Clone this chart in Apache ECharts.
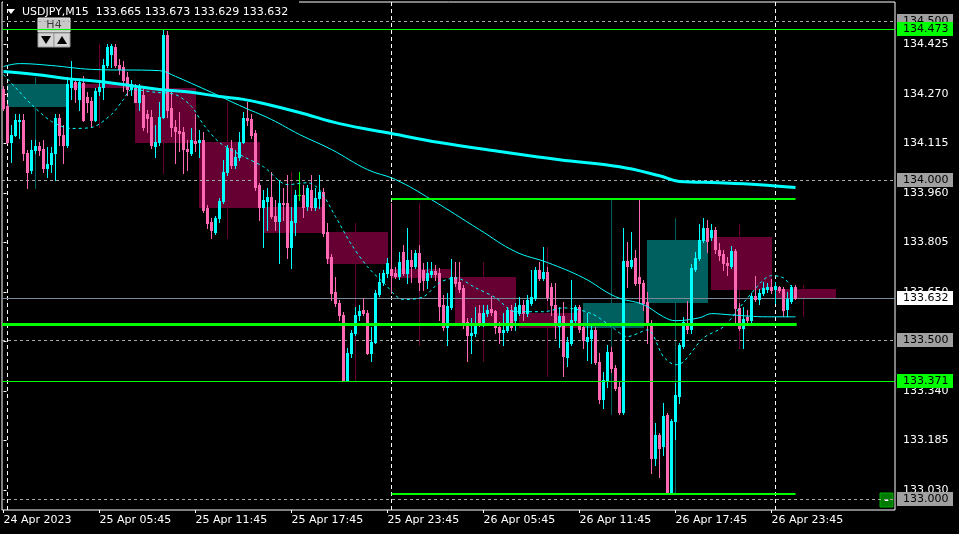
<!DOCTYPE html>
<html><head><meta charset="utf-8">
<script src="https://cdn.jsdelivr.net/npm/echarts@6/dist/echarts.min.js"></script>
<style>html,body{margin:0;padding:0;background:#000;}#c{width:959px;height:534px;}</style>
</head><body><div id="c"></div>
<script>
// ---------------- data ----------------
const symbol = 'USDJPY', period = 'M15';
const opens = [
134.284,134.231,134.121,134.143,134.184,134.190,134.086,134.033,134.093,134.108,
134.099,134.039,134.052,134.086,134.196,134.143,134.111,134.293,134.306,134.253,
134.303,134.259,134.249,134.190,134.278,134.293,134.362,134.394,134.416,134.362,
134.353,134.322,134.284,134.290,134.246,134.268,134.206,134.199,134.108,134.121,
134.199,134.456,134.227,134.168,134.155,134.152,134.099,134.086,134.124,134.118,
134.127,133.914,133.870,133.839,133.883,133.936,134.027,134.102,134.049,134.074,
134.121,134.196,134.193,134.149,133.986,133.917,133.936,133.948,133.889,133.873,
133.930,133.930,133.792,133.870,133.952,133.955,133.920,133.970,133.917,133.945,
133.964,133.839,133.760,133.651,133.616,133.578,133.375,133.459,133.522,133.578,
133.594,133.585,133.459,133.494,133.644,133.682,133.710,133.723,133.710,133.701,
133.776,133.710,133.751,133.732,133.773,133.720,133.688,133.707,133.716,133.710,
133.610,133.541,133.604,133.698,133.682,133.663,133.557,133.516,133.522,133.585,
133.553,133.585,133.597,133.591,133.541,133.525,133.531,133.594,133.563,133.585,
133.610,133.585,133.616,133.632,133.720,133.694,133.713,133.666,133.610,133.544,
133.575,133.447,133.491,133.563,133.604,133.541,133.497,133.506,133.531,133.431,
133.315,133.375,133.462,133.412,133.353,133.274,133.748,133.732,133.757,133.698,
133.679,133.619,133.553,133.130,133.202,133.168,133.265,133.020,133.246,133.325,
133.481,133.553,133.535,133.723,133.757,133.814,133.851,133.823,133.845,133.782,
133.770,133.742,133.732,133.779,133.600,133.538,133.572,133.563,133.638,133.629,
133.647,133.660,133.666,133.660,133.666,133.660,133.597,133.622,133.665];
const highs = [
134.296,134.240,134.174,134.206,134.206,134.206,134.096,134.127,134.127,134.121,
134.127,134.105,134.105,134.206,134.206,134.174,134.322,134.372,134.315,134.315,
134.325,134.275,134.262,134.290,134.315,134.378,134.425,134.425,134.425,134.378,
134.372,134.340,134.315,134.300,134.300,134.284,134.221,134.221,134.174,134.246,
134.473,134.466,134.275,134.190,134.215,134.165,134.127,134.162,134.206,134.158,
134.152,133.923,133.883,133.889,133.945,134.064,134.111,134.127,134.096,134.152,
134.215,134.246,134.206,134.158,133.992,133.970,133.977,134.027,133.939,134.002,
133.977,134.017,133.917,133.970,134.027,133.986,133.986,134.017,133.977,134.017,
133.977,133.867,133.770,133.698,133.626,133.588,133.475,133.531,133.604,133.610,
133.632,133.594,133.541,133.657,133.710,133.720,133.757,133.930,133.729,133.776,
133.798,133.851,133.782,133.782,133.798,133.742,133.745,133.745,133.735,133.726,
133.641,133.647,133.754,133.745,133.745,133.673,133.569,133.569,133.604,133.610,
133.610,133.610,133.638,133.594,133.557,133.585,133.604,133.610,133.616,133.635,
133.626,133.641,133.720,133.729,133.745,133.792,133.729,133.679,133.679,133.604,
133.619,133.510,133.688,133.610,133.610,133.547,133.585,133.547,133.541,133.459,
133.400,133.484,133.478,133.422,133.368,133.851,133.807,133.839,133.782,133.942,
133.688,133.651,133.563,133.240,133.209,133.303,133.271,133.252,133.365,133.491,
133.572,133.622,133.738,133.776,133.864,133.883,133.876,133.864,133.854,133.804,
133.782,133.760,133.795,133.785,133.616,133.604,133.594,133.647,133.701,133.660,
133.682,133.679,133.691,133.682,133.669,133.666,133.651,133.673,133.673];
const lows = [
134.221,134.115,134.058,134.137,134.133,134.064,133.977,134.024,134.086,134.080,
134.027,134.011,134.027,134.002,134.111,134.055,134.105,134.253,134.246,134.221,
134.184,134.215,134.165,134.184,134.268,134.253,134.353,134.353,134.353,134.331,
134.278,134.268,134.268,134.246,134.221,134.158,134.152,134.102,134.074,134.111,
134.196,134.199,134.137,134.055,134.090,134.024,134.033,134.080,134.090,134.074,
133.901,133.851,133.820,133.832,133.870,133.930,134.017,134.039,134.039,134.064,
134.115,134.174,134.133,133.970,133.876,133.792,133.845,133.883,133.845,133.742,
133.876,133.757,133.726,133.829,133.939,133.886,133.908,133.908,133.908,133.914,
133.826,133.742,133.626,133.607,133.563,133.371,133.373,133.447,133.516,133.563,
133.578,133.456,133.434,133.491,133.638,133.673,133.698,133.647,133.694,133.691,
133.704,133.679,133.682,133.726,133.657,133.657,133.663,133.698,133.688,133.563,
133.531,133.484,133.597,133.669,133.651,133.538,133.434,133.459,133.513,133.544,
133.544,133.575,133.578,133.522,133.491,133.484,133.525,133.531,133.531,133.578,
133.563,133.575,133.610,133.626,133.688,133.688,133.626,133.578,133.506,133.478,
133.387,133.419,133.484,133.557,133.525,133.475,133.437,133.428,133.425,133.303,
133.287,133.353,133.400,133.343,133.268,133.268,133.666,133.726,133.673,133.616,
133.594,133.491,133.083,133.108,133.071,133.140,133.017,133.017,133.190,133.303,
133.475,133.522,133.522,133.716,133.751,133.807,133.776,133.814,133.773,133.751,
133.720,133.704,133.726,133.553,133.531,133.475,133.553,133.557,133.622,133.613,
133.641,133.651,133.647,133.616,133.651,133.575,133.575,133.616,133.629];
const closes = [
134.227,134.121,134.143,134.190,134.190,134.086,134.027,134.096,134.108,134.096,
134.039,134.052,134.086,134.196,134.143,134.111,134.300,134.315,134.284,134.306,
134.190,134.246,134.190,134.278,134.293,134.362,134.416,134.419,134.362,134.347,
134.315,134.284,134.300,134.246,134.290,134.168,134.196,134.111,134.121,134.199,
134.456,134.221,134.165,134.155,134.149,134.099,134.090,134.127,134.115,134.127,
133.908,133.867,133.845,133.883,133.936,134.027,134.102,134.049,134.074,134.121,
134.196,134.187,134.143,133.980,133.917,133.939,133.948,133.889,133.873,133.930,
133.926,133.792,133.873,133.955,133.952,133.917,133.974,133.917,133.945,133.964,
133.836,133.757,133.647,133.616,133.578,133.375,133.459,133.522,133.578,133.591,
133.585,133.459,133.494,133.647,133.682,133.710,133.742,133.704,133.701,133.745,
133.710,133.751,133.732,133.773,133.682,133.688,133.710,133.716,133.707,133.607,
133.541,133.607,133.698,133.679,133.660,133.547,133.516,133.522,133.553,133.553,
133.585,133.594,133.588,133.541,133.525,133.531,133.594,133.541,133.604,133.610,
133.585,133.626,133.635,133.720,133.694,133.713,133.635,133.610,133.553,133.575,
133.450,133.494,133.563,133.604,133.535,133.500,133.510,133.531,133.431,133.315,
133.375,133.462,133.412,133.350,133.274,133.748,133.732,133.751,133.679,133.679,
133.616,133.553,133.130,133.202,133.162,133.262,133.020,133.246,133.328,133.484,
133.557,133.535,133.726,133.757,133.814,133.851,133.810,133.845,133.785,133.767,
133.742,133.735,133.779,133.600,133.538,133.566,133.563,133.638,133.629,133.647,
133.663,133.666,133.657,133.669,133.657,133.594,133.629,133.666,133.632];

// H4 candles drawn as boxes (first M15 bar index of each H4 bar)
const h4Start = [1,17,33,49,65,81,97,113,129,145,161,177,193];
const h4Open  = [134.231,134.300,134.290,134.121,133.917,133.839,133.723,133.698,133.585,133.541,133.619,133.823,133.660];
const h4High  = [134.322,134.425,134.473,134.246,134.027,133.867,133.930,133.745,133.792,133.942,133.883,133.864,133.673];
const h4Low   = [133.977,134.165,134.024,133.820,133.726,133.371,133.484,133.434,133.387,133.268,133.017,133.475,133.575];
const h4Close = [134.300,134.293,134.118,133.917,133.839,133.742,133.698,133.553,133.541,133.616,133.814,133.660,133.632];

// moving averages (bar index, value)
const maSlowIdx = [0,8,16,24,32,39,47,54,60,65,74,84,97,109,124,139,154,164,169,179,189,198];
const maSlowVal = [134.340,134.331,134.318,134.309,134.296,134.284,134.275,134.262,134.253,134.240,134.212,134.177,134.146,134.118,134.090,134.064,134.042,134.014,133.996,133.992,133.986,133.977];
const maMidIdx = [0,4,12,22,39,43,47,52,59,67,74,82,91,98,107,119,128,136,145,153,160,165,168,174,177,182,191,198];
const maMidVal = [134.356,134.365,134.359,134.347,134.343,134.325,134.303,134.275,134.234,134.190,134.143,134.096,134.033,134.002,133.939,133.845,133.776,133.742,133.694,133.635,133.610,133.572,133.560,133.569,133.582,133.578,133.572,133.572];
const maFastIdx = [0,3,7,12,17,22,27,30,32,38,43,47,50,54,60,65,71,76,79,83,87,91,95,100,105,109,113,118,123,128,135,140,147,152,156,161,165,168,170,175,180,185,190,192,195,197];
const maFastVal = [134.331,134.290,134.237,134.184,134.162,134.165,134.206,134.253,134.284,134.275,134.268,134.231,134.174,134.118,134.074,134.042,133.986,133.992,133.970,133.886,133.798,133.729,133.679,133.626,133.635,133.679,133.694,133.663,133.632,133.588,133.588,133.600,133.582,133.541,133.510,133.531,133.447,133.422,133.431,133.506,133.541,133.616,133.688,133.701,133.694,133.666];

// levels
const roundLevels = [134.500, 134.000, 133.500, 133.000];
const greenLevels = [134.473, 133.371];
const supportLevel = [133.551];
const dayRange = [133.942, 133.017];
const dayStartIdx = 97;
const daySepIdx = [1, 97, 193];

// axes
const timeTickIdx = [0,24,48,72,96,120,144,168,192];
const timeLabels = ['24 Apr 2023','25 Apr 05:45','25 Apr 11:45','25 Apr 17:45','25 Apr 23:45','26 Apr 05:45','26 Apr 11:45','26 Apr 17:45','26 Apr 23:45'];
const priceTicks = [134.425,134.270,134.115,133.960,133.805,133.650,133.495,133.340,133.185,133.030];

// ---------------- rendering ----------------
const XMIN = -0.375, XMAX = 222.875, YMIN = 132.967, YMAX = 134.558;
const FONT = '11px "DejaVu Sans"';
const BULL = '#00ffff', BEAR = '#ff69b4', DOJI = '#00ff00';
const TEAL = '#006060', MAROON = '#660033';
const GREEN = '#00ff00';
const last = closes.length - 1;

const candleData = opens.map((o, i) => [i, o, closes[i], lows[i], highs[i]]);
const boxData = h4Start.map((s, i) => [s, h4Open[i], h4High[i], h4Low[i], h4Close[i]]);

function candleItem(params, api) {
  const k = api.value(0), o = api.value(1), c = api.value(2), l = api.value(3), h = api.value(4);
  const po = api.coord([k, o]), pc = api.coord([k, c]), ph = api.coord([k, h]), pl = api.coord([k, l]);
  const col = c > o ? BULL : (c < o ? BEAR : DOJI);
  const px = Math.round(po[0] - 0.5);
  const yT = Math.round(Math.min(po[1], pc[1])), yB = Math.round(Math.max(po[1], pc[1]));
  const yH = Math.round(ph[1]), yL = Math.round(pl[1]);
  return {type: 'group', children: [
    {type: 'rect', shape: {x: px, y: yH, width: 1, height: Math.max(1, yL - yH + 1)}, style: {fill: col}},
    {type: 'rect', shape: {x: px - 1, y: yT, width: 3, height: Math.max(1, yB - yT + 1)}, style: {fill: col}}
  ]};
}
function boxItem(params, api) {
  const s = api.value(0), o = api.value(1), h = api.value(2), l = api.value(3), c = api.value(4);
  const p1 = api.coord([s, o]), p2 = api.coord([s + 15, c]);
  const wh = api.coord([s + 7, h]), wl = api.coord([s + 7, l]);
  const col = c >= o ? TEAL : MAROON;
  const x1 = Math.round(p1[0] - 0.5), x2 = Math.round(p2[0] - 0.5) + 1;
  const yA = Math.round(Math.min(p1[1], p2[1])), yB = Math.round(Math.max(p1[1], p2[1]));
  const wx = Math.round(wh[0] - 0.5);
  return {type: 'group', children: [
    {type: 'rect', shape: {x: wx, y: Math.round(wh[1]), width: 1, height: Math.round(wl[1]) - Math.round(wh[1]) + 1}, style: {fill: col}},
    {type: 'rect', shape: {x: x1, y: yA, width: x2 - x1, height: Math.max(2, yB - yA + 1)}, style: {fill: col}}
  ]};
}
function hline(x0, x1, color, width, dash) {
  return function (params, api) {
    const v = api.value(0);
    const a = api.coord([x0, v]), b = api.coord([x1, v]);
    const y = Math.round(a[1]) + (width % 2 ? 0.5 : 0);
    return {type: 'line', shape: {x1: a[0], y1: y, x2: b[0], y2: y},
      style: {stroke: color, lineWidth: width, lineDash: dash || null}};
  };
}
function vsep(params, api) {
  const k = api.value(0);
  const p = api.coord([k, YMAX]);
  const cs = params.coordSys;
  const x = Math.round(p[0] - 0.5) + 0.5;
  return {type: 'line', shape: {x1: x, y1: cs.y, x2: x, y2: cs.y + cs.height},
    style: {stroke: '#ffffff', lineWidth: 1, lineDash: [4, 3]}};
}
function labelBox(bg, fg) {
  return function (params, api) {
    const v = api.value(0);
    const p = api.coord([XMAX, v]);
    const yc = Math.round(p[1]);
    const x = params.coordSys.x + params.coordSys.width + 2;
    return {type: 'group', children: [
      {type: 'rect', shape: {x: x, y: yc - 7, width: 56, height: 14}, style: {fill: bg}},
      {type: 'text', style: {x: x + 6, y: yc, text: v.toFixed(3), font: FONT, fill: fg, verticalAlign: 'middle', align: 'left'}}
    ]};
  };
}
function customSeries(name, data, renderItem, z, clip) {
  return {type: 'custom', name, data, renderItem, z, clip: !!clip, silent: true,
    encode: {y: 0}, animation: false};
}

const titleText = symbol + ',' + period + '  ' +
  [opens[last], highs[last], lows[last], closes[last]].map(v => v.toFixed(3)).join(' ');

const option = {
  backgroundColor: '#000000',
  animation: false,
  grid: {left: 2, right: 64, top: 2, bottom: 24, show: true, borderColor: '#ffffff', borderWidth: 1, backgroundColor: 'transparent'},
  xAxis: {
    type: 'value', min: XMIN, max: XMAX,
    axisLine: {show: false},
    splitLine: {show: false},
    axisTick: {show: true, customValues: timeTickIdx, length: 3, lineStyle: {color: '#ffffff'}},
    axisLabel: {customValues: timeTickIdx, formatter: v => timeLabels[timeTickIdx.indexOf(v)] || '',
      color: '#ffffff', fontFamily: 'DejaVu Sans', fontSize: 11, align: 'left', margin: 5}
  },
  yAxis: {
    type: 'value', min: YMIN, max: YMAX, position: 'right', scale: true,
    axisLine: {show: false},
    splitLine: {show: false},
    axisTick: {show: true, customValues: priceTicks, length: 3, lineStyle: {color: '#ffffff'}},
    axisLabel: {customValues: priceTicks, formatter: v => v.toFixed(3),
      color: '#ffffff', fontFamily: 'DejaVu Sans', fontSize: 11, margin: 8}
  },
  series: [
    customSeries('h4', boxData, boxItem, 1, true),
    customSeries('round', roundLevels.map(v => [v]), hline(XMIN, XMAX, '#a8a8a8', 1, [3, 3]), 1, true),
    customSeries('sep', daySepIdx.map(v => [v]), vsep, 1, true),
    customSeries('bid', [[closes[last]]], hline(XMIN, XMAX, '#778899', 1), 2, true),
    customSeries('candles', candleData, candleItem, 3, true),
    {type: 'line', name: 'maSlow', data: maSlowIdx.map((k, i) => [k, maSlowVal[i]]), showSymbol: false, smooth: 0.4,
      lineStyle: {color: '#00ffff', width: 3}, z: 4, silent: true},
    {type: 'line', name: 'maMid', data: maMidIdx.map((k, i) => [k, maMidVal[i]]), showSymbol: false, smooth: 0.4,
      lineStyle: {color: '#00ffff', width: 1}, z: 4, silent: true},
    {type: 'line', name: 'maFast', data: maFastIdx.map((k, i) => [k, maFastVal[i]]), showSymbol: false, smooth: 0.3,
      lineStyle: {color: '#00ffff', width: 1, type: [3, 3]}, z: 4, silent: true},
    customSeries('green', greenLevels.map(v => [v]), hline(XMIN, XMAX, GREEN, 1), 5, true),
    customSeries('support', supportLevel.map(v => [v]), hline(XMIN, last + 0.3, GREEN, 3), 5, true),
    customSeries('range', dayRange.map(v => [v]), hline(dayStartIdx, last, GREEN, 2), 5, true),
    customSeries('lblRound', roundLevels.map(v => [v]), labelBox('#a0a0a0', '#000000'), 6, false),
    customSeries('lblGreen', greenLevels.map(v => [v]), labelBox(GREEN, '#000000'), 7, false),
    customSeries('lblBid', [[closes[last]]], labelBox('#ffffff', '#000000'), 8, false)
  ],
  graphic: [
    {type: 'rect', shape: {x: 3, y: 1, width: 296, height: 3}, style: {fill: '#000000'}, z: 19},
    {type: 'polygon', shape: {points: [[7, 9], [15, 9], [11, 14]]}, style: {fill: '#ffffff'}, z: 20},
    {type: 'text', x: 22, y: 12, style: {text: titleText, font: FONT, fill: '#ffffff', verticalAlign: 'middle'}, z: 20},
    {type: 'group', z: 20, children: [
      {type: 'rect', shape: {x: 38, y: 18, width: 32, height: 14}, style: {fill: '#c8c8c8', stroke: '#e8e8e8', lineWidth: 1}},
      {type: 'text', x: 54, y: 25, style: {text: 'H4', font: FONT, fill: '#3a3a3a', align: 'center', verticalAlign: 'middle'}},
      {type: 'rect', shape: {x: 38, y: 33, width: 16, height: 14}, style: {fill: '#d4d4d4', stroke: '#9a9a9a', lineWidth: 1}},
      {type: 'rect', shape: {x: 54, y: 33, width: 16, height: 14}, style: {fill: '#d4d4d4', stroke: '#9a9a9a', lineWidth: 1}},
      {type: 'polygon', shape: {points: [[41, 36], [51, 36], [46, 44]]}, style: {fill: '#000000'}},
      {type: 'polygon', shape: {points: [[57, 44], [67, 44], [62, 36]]}, style: {fill: '#000000'}}
    ]},
    {type: 'group', z: 20, children: [
      {type: 'rect', shape: {x: 880, y: 493, width: 13, height: 14}, style: {fill: '#007a00', stroke: '#00b000', lineWidth: 1}},
      {type: 'text', x: 886.5, y: 500, style: {text: '-', font: 'bold 11px "DejaVu Sans"', fill: '#ffffff', align: 'center', verticalAlign: 'middle'}}
    ]}
  ]
};
const chart = echarts.init(document.getElementById('c'), null, {renderer: 'canvas', width: 959, height: 534});
chart.setOption(option);
</script>
</body></html>
